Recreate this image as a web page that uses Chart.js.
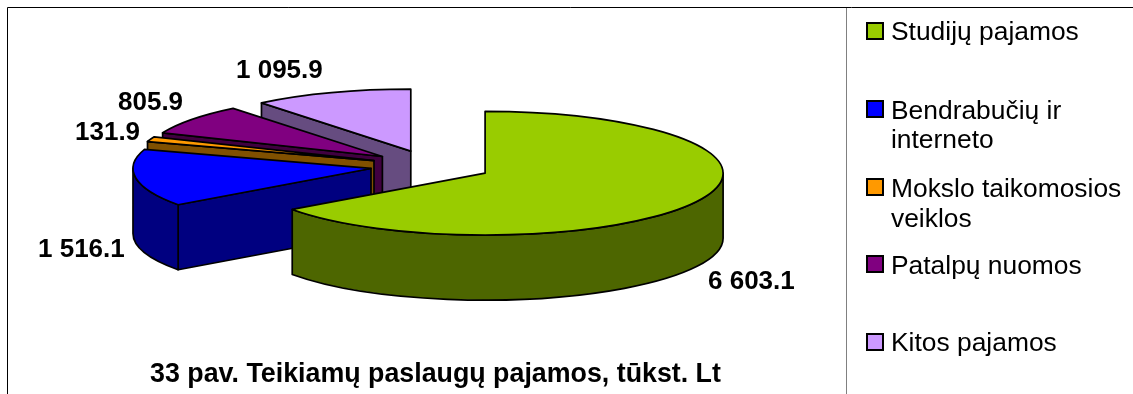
<!DOCTYPE html>
<html lang="lt">
<head>
<meta charset="utf-8">
<title>33 pav. Teikiamų paslaugų pajamos, tūkst. Lt</title>
<script src="https://cdn.jsdelivr.net/npm/chart.js@4/dist/chart.umd.min.js"></script>
<style>
html,body{margin:0;padding:0;background:#fff;overflow:hidden}
canvas{display:block}
</style>
</head>
<body>
<canvas id="c" width="1133" height="394"></canvas>
<script>
const categories = [
  ['Studijų pajamos'],
  ['Bendrabučių ir', 'interneto'],
  ['Mokslo taikomosios', 'veiklos'],
  ['Patalpų nuomos'],
  ['Kitos pajamos']
];
const values = [6603.1, 1516.1, 131.9, 805.9, 1095.9];
const titleText = '33 pav. Teikiamų paslaugų pajamos, tūkst. Lt';

const topColors  = ['#99CC00', '#0000FF', '#FF9900', '#800080', '#CC99FF'];
const sideColors = ['#4D6600', '#000080', '#805000', '#400040', '#664C80'];

const SQUASH = 0.26, DEPTH = 65, EXPLODE = 60.75, RADIUS = 238, LINE = 1.7;
const FONT = '"Liberation Sans", Arial, sans-serif';
const labelAnchors = [[708, 289], [38, 257], [75, 140], [118, 110], [236, 78]];
const legendRows = [
  {box: 23, base: [40]},
  {box: 101, base: [119, 148]},
  {box: 179, base: [197, 227]},
  {box: 256, base: [274]},
  {box: 334, base: [351]}
];

const fmt = v => {
  const [a, b] = v.toFixed(1).split('.');
  return a.replace(/\B(?=(\d{3})+$)/g, ' ') + '.' + b;
};

const pie3d = {
  id: 'pie3d',
  beforeDraw(chart) {
    const c = chart.ctx;
    c.save();
    c.fillStyle = '#fff';
    c.fillRect(0, 0, chart.width, chart.height);
    c.strokeStyle = '#000';
    c.lineWidth = 1;
    c.beginPath();
    c.moveTo(7.5, chart.height);
    c.lineTo(7.5, 7.5);
    c.lineTo(chart.width, 7.5);
    c.stroke();
    c.strokeStyle = '#808080';
    c.beginPath();
    c.moveTo(846.5, 8);
    c.lineTo(846.5, chart.height);
    c.stroke();
    c.restore();
  },
  beforeDatasetDraw(chart, args) {
    const c = chart.ctx;
    const arcs = chart.getDatasetMeta(args.index).data;
    c.save();
    c.lineJoin = 'round';
    for (let i = arcs.length - 1; i >= 0; i--) {
      const el = arcs[i];
      const a0 = el.startAngle, a1 = el.endAngle, mid = (a0 + a1) / 2;
      const R = el.outerRadius;
      const ox = el.x + Math.cos(mid) * EXPLODE;
      const oy = el.y + Math.sin(mid) * EXPLODE * SQUASH;
      const ry = R * SQUASH;
      const pt = a => [ox + R * Math.cos(a), oy + ry * Math.sin(a)];

      c.fillStyle = sideColors[i];
      c.strokeStyle = '#000';
      c.lineWidth = LINE;
      // radial walls that face the viewer
      const walls = [];
      if (Math.cos(a0) < -1e-6) walls.push(a0);
      if (Math.cos(a1) > 1e-6) walls.push(a1);
      for (const a of walls) {
        const [px, py] = pt(a);
        c.beginPath();
        c.moveTo(ox, oy);
        c.lineTo(px, py);
        c.lineTo(px, py + DEPTH);
        c.lineTo(ox, oy + DEPTH);
        c.closePath();
        c.fill();
        c.stroke();
      }
      // outer rim, only the part that faces the viewer
      const r0 = Math.max(a0, 0), r1 = Math.min(a1, Math.PI);
      if (r1 > r0) {
        c.beginPath();
        c.ellipse(ox, oy, R, ry, 0, r0, r1);
        c.ellipse(ox, oy + DEPTH, R, ry, 0, r1, r0, true);
        c.closePath();
        c.fill();
        c.stroke();
      }
      // top face, drawn by the library's own arc element
      c.save();
      c.translate(ox - el.x, oy);
      c.scale(1, SQUASH);
      c.translate(0, -el.y);
      el.draw(c, chart.chartArea);
      c.restore();
      // outline of the top face at a uniform pen width
      c.beginPath();
      c.moveTo(ox, oy);
      c.ellipse(ox, oy, R, ry, 0, a0, a1);
      c.closePath();
      c.stroke();
    }
    c.restore();
    return false;
  },
  afterDraw(chart) {
    const c = chart.ctx;
    c.save();
    c.fillStyle = '#000';
    c.textBaseline = 'alphabetic';
    c.textAlign = 'left';
    c.font = 'bold 26px ' + FONT;
    values.forEach((v, i) => c.fillText(fmt(v), labelAnchors[i][0], labelAnchors[i][1]));
    c.font = 'bold 26.8px ' + FONT;
    c.textAlign = 'center';
    c.fillText(titleText, 435.5, 382);
    c.textAlign = 'left';
    c.font = '26.4px ' + FONT;
    categories.forEach((lines, i) => {
      const row = legendRows[i];
      c.fillStyle = topColors[i];
      c.fillRect(867, row.box, 16, 16);
      c.strokeStyle = '#000';
      c.lineWidth = 2;
      c.strokeRect(867, row.box, 16, 16);
      c.fillStyle = '#000';
      lines.forEach((t, j) => c.fillText(t, 891, row.base[j]));
    });
    c.restore();
  }
};

new Chart(document.getElementById('c'), {
  type: 'pie',
  data: {
    labels: categories,
    datasets: [{
      data: values,
      backgroundColor: topColors,
      borderWidth: 0,
      hoverOffset: 0
    }]
  },
  options: {
    responsive: false,
    animation: false,
    events: [],
    radius: RADIUS,
    rotation: 0,
    layout: {padding: {left: 0, top: 0, right: 271, bottom: 62}},
    plugins: {legend: {display: false}, title: {display: false}, tooltip: {enabled: false}}
  },
  plugins: [pie3d]
});
</script>
</body>
</html>
